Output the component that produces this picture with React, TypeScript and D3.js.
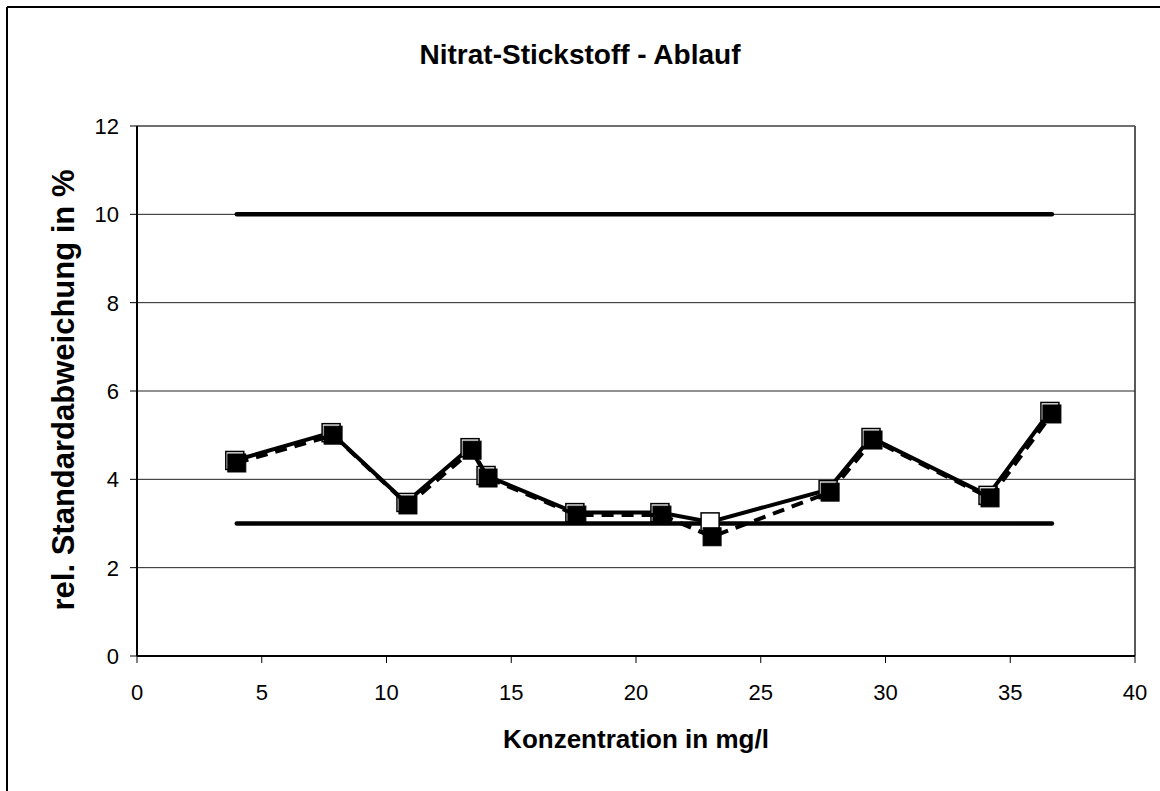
import React from "react";
import * as d3 from "d3";

const title = "Nitrat-Stickstoff - Ablauf";
const xTitle = "Konzentration in mg/l";
const yTitle = "rel. Standardabweichung in %";

const concentrations = [4.0, 7.86, 10.86, 13.43, 14.07, 17.63, 21.04, 23.05, 27.78, 29.5, 34.19, 36.67];
const seriesSolid = [4.37, 5.0, 3.42, 4.66, 4.03, 3.19, 3.19, 2.98, 3.71, 4.89, 3.58, 5.48];
const seriesDashed = [4.37, 5.0, 3.42, 4.66, 4.03, 3.19, 3.19, 2.7, 3.71, 4.89, 3.58, 5.48];
const limitValues = [10, 3];
const xTicks = [0, 5, 10, 15, 20, 25, 30, 35, 40];
const yTicks = [0, 2, 4, 6, 8, 10, 12];

const W = 1160;
const H = 791;
const plot = { left: 137, right: 1135, top: 126, bottom: 656 };
const font = "'Liberation Sans', Arial, sans-serif";

export default function App() {
  const x = d3.scaleLinear().domain([0, 40]).range([plot.left, plot.right]);
  const y = d3.scaleLinear().domain([0, 12]).range([plot.bottom, plot.top]);

  const solidPts = concentrations.map((c, i) => [c, seriesSolid[i]] as [number, number]);
  const dashedPts = concentrations.map((c, i) => [c, seriesDashed[i]] as [number, number]);
  const line = d3
    .line<[number, number]>()
    .x((d) => x(d[0]))
    .y((d) => y(d[1]));

  const xMin = d3.min(concentrations)!;
  const xMax = d3.max(concentrations)!;
  const ms = 18;

  return (
    <svg
      width={W}
      height={H}
      style={{ position: "absolute", left: 0, top: 0, background: "#fff" }}
      fontFamily={font}
    >
      <rect x={0} y={0} width={W} height={H} fill="#fff" />
      {/* outer chart border */}
      <line x1={7} y1={7} x2={W} y2={7} stroke="#000" strokeWidth={2} />
      <line x1={7} y1={7} x2={7} y2={H} stroke="#000" strokeWidth={2} />

      {/* title */}
      <text x={580} y={64} textAnchor="middle" fontSize={28} fontWeight="bold">
        {title}
      </text>

      {/* grid lines */}
      {yTicks.slice(1).map((t) => (
        <line key={t} x1={plot.left} x2={plot.right} y1={y(t)} y2={y(t)} stroke="#222" strokeWidth={1} />
      ))}
      {/* plot frame right/top */}
      <line x1={plot.right} x2={plot.right} y1={plot.top} y2={plot.bottom} stroke="#222" strokeWidth={1.5} />
      <line x1={plot.left} x2={plot.right} y1={plot.top} y2={plot.top} stroke="#666" strokeWidth={1.5} />

      {/* axes */}
      <line x1={plot.left} x2={plot.left} y1={plot.top} y2={plot.bottom} stroke="#000" strokeWidth={2} />
      <line x1={plot.left} x2={plot.right} y1={plot.bottom} y2={plot.bottom} stroke="#000" strokeWidth={2} />
      {yTicks.map((t) => (
        <g key={t}>
          <line x1={plot.left - 7} x2={plot.left} y1={y(t)} y2={y(t)} stroke="#000" strokeWidth={1} />
          <text x={119} y={y(t)} dy="0.36em" textAnchor="end" fontSize={22}>
            {t}
          </text>
        </g>
      ))}
      {xTicks.map((t) => (
        <g key={t}>
          <line x1={x(t)} x2={x(t)} y1={plot.bottom} y2={plot.bottom + 7} stroke="#000" strokeWidth={1} />
          <text x={x(t)} y={700} textAnchor="middle" fontSize={22}>
            {t}
          </text>
        </g>
      ))}

      {/* limit lines */}
      {limitValues.map((v) => (
        <line
          key={v}
          x1={x(xMin)}
          x2={x(xMax)}
          y1={y(v)}
          y2={y(v)}
          stroke="#000"
          strokeWidth={4.5}
          strokeLinecap="round"
        />
      ))}

      {/* solid series (white markers) */}
      <g transform="translate(-2,-2.5)">
        <path d={line(solidPts)!} fill="none" stroke="#000" strokeWidth={4} />
        {solidPts.map((p, i) => (
          <rect
            key={i}
            x={x(p[0]) - ms / 2}
            y={y(p[1]) - ms / 2}
            width={ms}
            height={ms}
            fill="#fff"
            stroke="#000"
            strokeWidth={1.5}
          />
        ))}
      </g>

      {/* dashed series (black markers) */}
      <path d={line(dashedPts)!} fill="none" stroke="#000" strokeWidth={4} strokeDasharray="12,8" />
      {dashedPts.map((p, i) => (
        <rect
          key={i}
          x={x(p[0]) - ms / 2}
          y={y(p[1]) - ms / 2}
          width={ms}
          height={ms}
          fill="#000"
          stroke="#000"
          strokeWidth={1}
        />
      ))}

      {/* axis titles */}
      <text x={(plot.left + plot.right) / 2} y={748} textAnchor="middle" fontSize={26} fontWeight="bold">
        {xTitle}
      </text>
      <text
        transform={`translate(74, 390) rotate(-90)`}
        textAnchor="middle"
        fontSize={31}
        fontWeight="bold"
      >
        {yTitle}
      </text>
    </svg>
  );
}
